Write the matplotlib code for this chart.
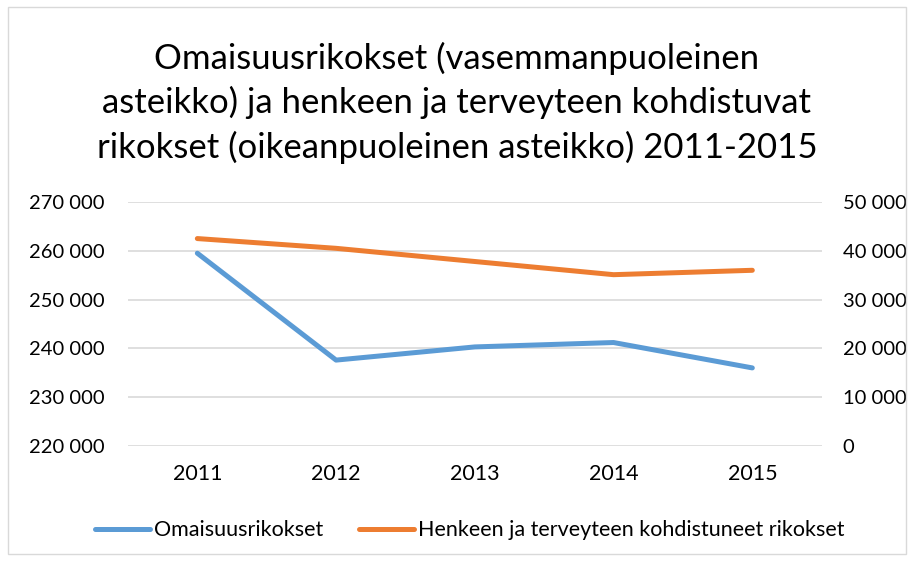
import matplotlib.pyplot as plt
from matplotlib.patches import Rectangle
from matplotlib.ticker import FuncFormatter

years = ["2011", "2012", "2013", "2014", "2015"]
omaisuus = [259500, 237600, 240300, 241200, 236000]
henkeen = [42500, 40500, 37800, 35100, 36000]

blue = "#5B9BD5"
orange = "#ED7D31"

plt.rcParams['font.family'] = ['Lato', 'DejaVu Sans']

fig = plt.figure(figsize=(9.14, 5.61), dpi=100)
ax = fig.add_axes([0.140, 0.205, 0.759, 0.435])
ax2 = ax.twinx()

x = range(len(years))
l1, = ax.plot(x, omaisuus, color=blue, lw=3.6, solid_capstyle='round', label="Omaisuusrikokset")
l2, = ax2.plot(x, henkeen, color=orange, lw=3.6, solid_capstyle='round',
               label="Henkeen ja terveyteen kohdistuneet rikokset")

fmt = FuncFormatter(lambda v, p: f"{int(v):,}".replace(",", " "))
ax.set_ylim(220000, 270000)
ax.set_yticks(range(220000, 270001, 10000))
ax.yaxis.set_major_formatter(fmt)
ax2.set_ylim(0, 50000)
ax2.set_yticks(range(0, 50001, 10000))
ax2.yaxis.set_major_formatter(fmt)

ax.set_xlim(-0.5, 4.5)
ax.set_xticks(list(x))
ax.set_xticklabels(years)

ax.grid(axis='y', color='#D9D9D9', lw=1.2)
ax.set_axisbelow(True)
for a in (ax, ax2):
    for s in a.spines.values():
        s.set_visible(False)
    a.tick_params(length=0, labelsize=14.5, colors='#000000')
ax.tick_params(axis='x', labelsize=15.5, pad=13)
ax.tick_params(axis='y', pad=17)
ax2.tick_params(axis='y', pad=15)

fig.text(0.5, 0.817, "Omaisuusrikokset (vasemmanpuoleinen\nasteikko) ja henkeen ja terveyteen kohdistuvat\nrikokset (oikeanpuoleinen asteikko) 2011-2015",
         ha='center', va='center', fontsize=25, linespacing=1.42, color='#000000')

fig.legend(handles=[l1, l2], loc='center', bbox_to_anchor=(0.514, 0.055), ncol=2, frameon=False,
           fontsize=15.5, handlelength=2.55, handletextpad=0.15, columnspacing=1.7)

fig.patches.append(Rectangle((0.009, 0.013), 0.982, 0.975, transform=fig.transFigure,
                             fill=False, edgecolor='#D9D9D9', lw=1))

fig.savefig("out.png", dpi=100)
